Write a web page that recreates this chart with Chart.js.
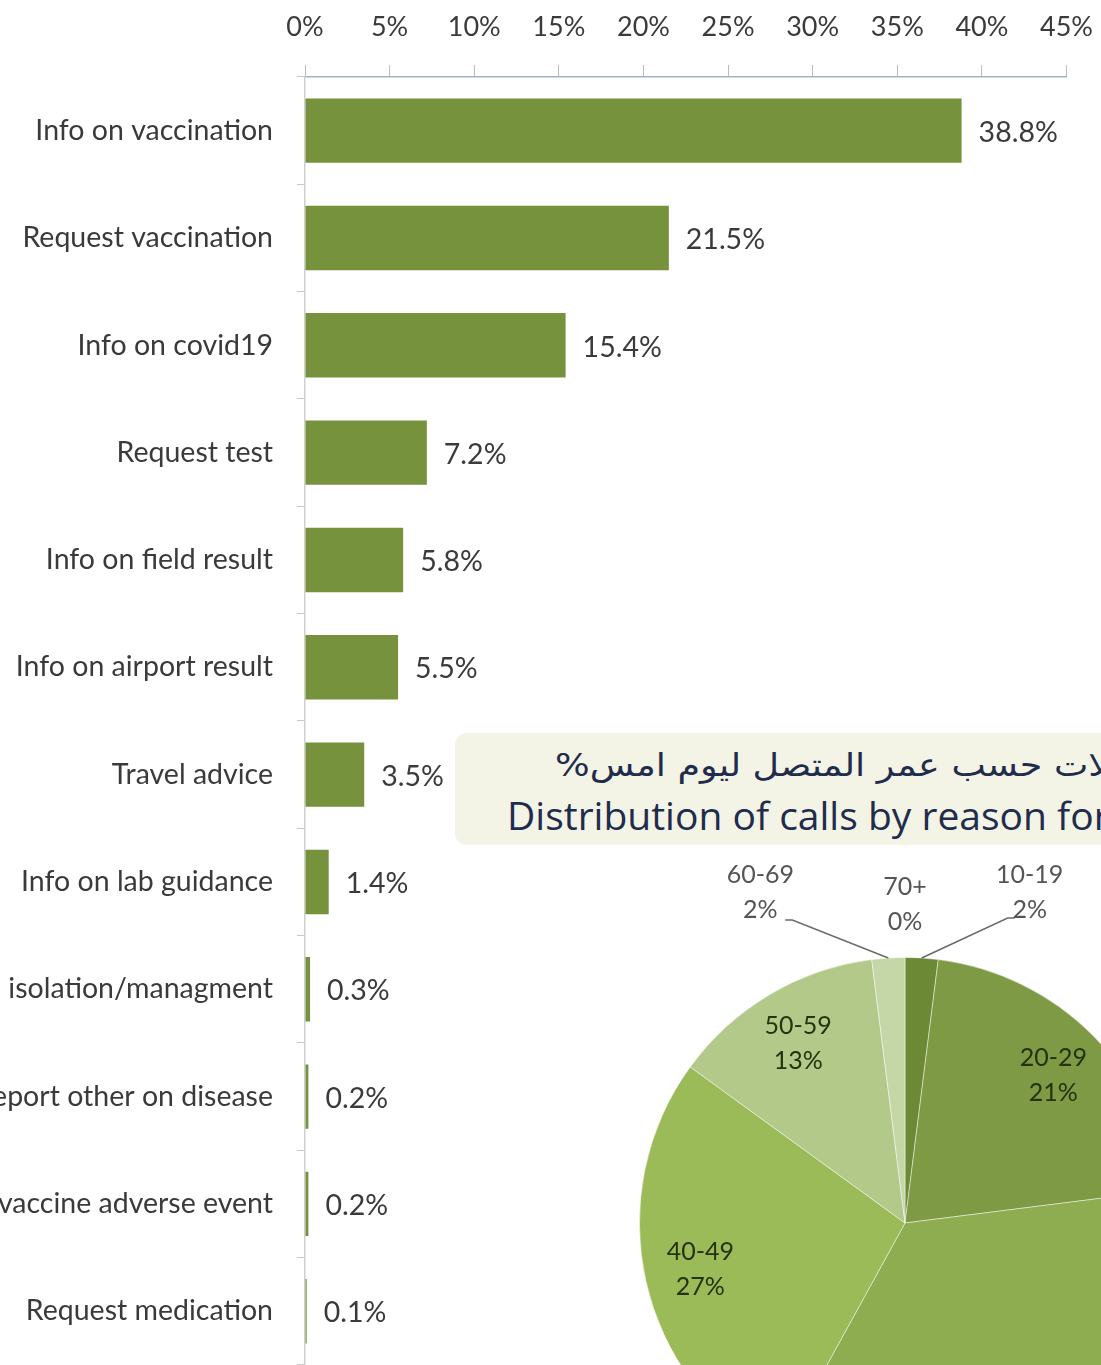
<!DOCTYPE html>
<html>
<head>
<meta charset="utf-8">
<script src="https://cdn.jsdelivr.net/npm/chart.js@4"></script>
<style>
  html, body { margin: 0; padding: 0; background: #fff; }
  body { width: 1101px; height: 1365px; overflow: hidden; position: relative; }
  #bars { position: absolute; left: -150px; top: 0; }
  #box {
    position: absolute; left: 455px; top: 733px; width: 760px; height: 112px;
    background: #f3f4e5; border-radius: 12px;
  }
  .ttl { position: absolute; white-space: nowrap; color: #1f2c4d; }
  #ar {
    left: 555px; top: 746px; direction: rtl; font: 32px "DejaVu Sans", sans-serif;
    transform: scaleX(1.14); transform-origin: left center;
  }
  #en { left: 507px; top: 788px; font: 39px "Open Sans", sans-serif; }
  #pie { position: absolute; left: 505px; top: 823px; }
</style>
</head>
<body>
<canvas id="bars" width="1265" height="1406"></canvas>
<div id="box"></div>
<div class="ttl" id="ar">توزيع الاتصالات حسب عمر المتصل ليوم امس%</div>
<div class="ttl" id="en">Distribution of calls by reason for calling</div>
<canvas id="pie" width="800" height="800"></canvas>
<script>
// 通話理由（%）
const reasons = [
  'Info on vaccination', 'Request vaccination', 'Info on covid19', 'Request test',
  'Info on field result', 'Info on airport result', 'Travel advice', 'Info on lab guidance',
  'Info on isolation/managment', 'Report other on disease', 'Report vaccine adverse event',
  'Request medication'
];
const reasonPct = [38.8, 21.5, 15.4, 7.2, 5.8, 5.5, 3.5, 1.4, 0.3, 0.2, 0.2, 0.1];
const pctTicks = [0, 5, 10, 15, 20, 25, 30, 35, 40, 45];

// 年齢別（%）
const ageGroups = ['10-19', '20-29', '30-39', '40-49', '50-59', '60-69', '70+'];
const agePct = [2, 21, 35, 27, 13, 2, 0];

const txt = '#3a3a3a';
const lato = 'Lato, "Open Sans", sans-serif';

// バーの右に値を描く
const valueLabels = {
  id: 'valueLabels',
  afterDatasetsDraw(chart) {
    const ctx = chart.ctx;
    ctx.save();
    ctx.font = '28.5px ' + lato;
    ctx.fillStyle = txt;
    ctx.textBaseline = 'middle';
    chart.getDatasetMeta(0).data.forEach((bar, i) => {
      ctx.fillText(reasonPct[i].toFixed(1) + '%', bar.x + 17, bar.y + 2);
    });
    ctx.restore();
  }
};

new Chart(document.getElementById('bars'), {
  type: 'bar',
  data: {
    labels: reasons,
    datasets: [{
      data: reasonPct,
      backgroundColor: '#76923c',
      barPercentage: 0.6,
      categoryPercentage: 1.0
    }]
  },
  options: {
    indexAxis: 'y',
    responsive: false,
    animation: false,
    layout: { padding: { right: 34, bottom: 13 } },
    plugins: { legend: { display: false }, tooltip: { enabled: false } },
    scales: {
      x: {
        position: 'top',
        min: 0, max: 45,
        afterBuildTicks: s => { s.ticks = pctTicks.map(v => ({ value: v })); },
        afterFit: s => { s.height = 77; },
        ticks: {
          callback: v => v + '%',
          font: { family: lato, size: 27 },
          color: txt,
          padding: 22,
          maxRotation: 0
        },
        grid: { drawOnChartArea: false, tickLength: 12, color: '#b4bcc8' },
        border: { color: '#a3b1c6', width: 1.5 }
      },
      y: {
        afterFit: s => { s.width = 455; },
        ticks: {
          font: { family: lato, size: 28.5 },
          color: txt,
          padding: 24
        },
        grid: { drawOnChartArea: false, tickLength: 8, offset: true, color: '#c8c8c8' },
        border: { color: '#cfcfcf', width: 1.5 }
      }
    }
  },
  plugins: [valueLabels]
});

// 円グラフのラベル
const outside = {
  0: { dx: 108, dy: -66, line: true, lx: 86, ly: -40 },
  5: { dx: -128, dy: -66, line: true, lx: -96, ly: -38 },
  6: { dx: 0, dy: -54, line: false }
};
const pieLabels = {
  id: 'pieLabels',
  afterDatasetsDraw(chart) {
    const ctx = chart.ctx;
    ctx.save();
    ctx.font = '25px ' + lato;
    ctx.textAlign = 'center';
    ctx.textBaseline = 'middle';
    chart.getDatasetMeta(0).data.forEach((arc, i) => {
      const p = arc.getProps(['x', 'y', 'startAngle', 'endAngle', 'outerRadius'], true);
      const mid = (p.startAngle + p.endAngle) / 2;
      const t1 = ageGroups[i], t2 = Math.round(agePct[i]) + '%';
      if (outside[i]) {
        const o = outside[i];
        const ax = p.x + Math.cos(mid) * p.outerRadius;
        const ay = p.y + Math.sin(mid) * p.outerRadius;
        if (o.line) {
          ctx.strokeStyle = '#6a6a6a';
          ctx.lineWidth = 1.5;
          ctx.beginPath();
          ctx.moveTo(ax, ay);
          ctx.lineTo(ax + o.lx, ay + o.ly);
          ctx.lineTo(ax + o.lx + (o.lx > 0 ? 7 : -7), ay + o.ly);
          ctx.stroke();
        }
        ctx.fillStyle = '#555';
        ctx.fillText(t1, ax + o.dx, ay + o.dy - 17);
        ctx.fillText(t2, ax + o.dx, ay + o.dy + 18);
      } else {
        const r = p.outerRadius * 0.79;
        const x = p.x + Math.cos(mid) * r, y = p.y + Math.sin(mid) * r;
        ctx.fillStyle = '#25330d';
        ctx.fillText(t1, x, y - 17);
        ctx.fillText(t2, x, y + 18);
      }
    });
    ctx.restore();
  }
};

new Chart(document.getElementById('pie'), {
  type: 'pie',
  data: {
    labels: ageGroups,
    datasets: [{
      data: agePct,
      backgroundColor: ['#6c8a35', '#7e9a44', '#8eac50', '#9bbb58', '#b2c98a', '#c6d7a7', '#dde7cb'],
      borderColor: 'rgba(255,255,255,0.45)',
      borderWidth: 1
    }]
  },
  options: {
    responsive: false,
    animation: false,
    layout: { padding: 134 },
    plugins: { legend: { display: false }, tooltip: { enabled: false } }
  },
  plugins: [pieLabels]
});
</script>
</body>
</html>
